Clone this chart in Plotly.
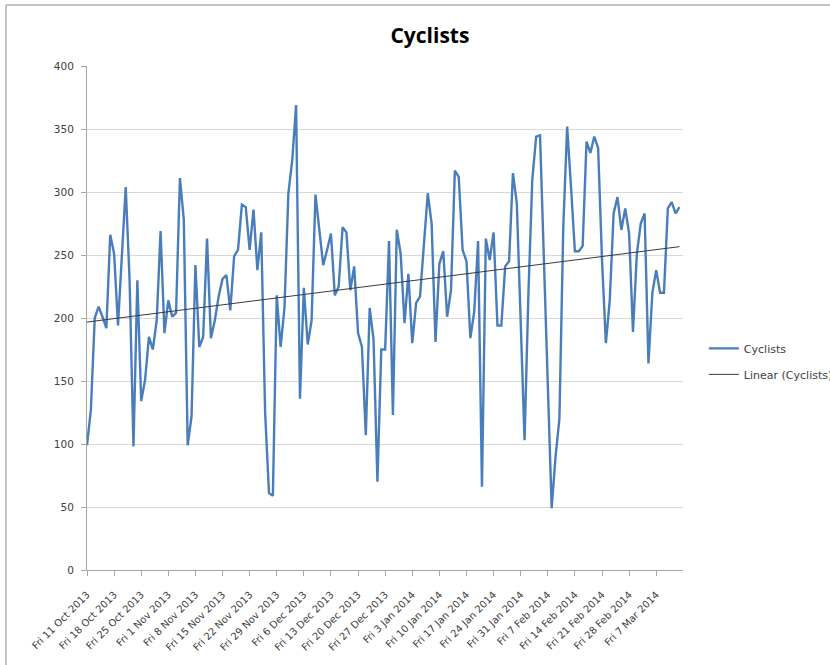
import numpy as np
import pandas as pd
import plotly.graph_objs as go

# Daily cyclist counts
start_date = "2013-10-11"
cyclists = [
    99, 127, 200, 209, 201, 192, 266, 251, 194, 245,
    304, 230, 98, 230, 134, 151, 185, 175, 198, 269,
    188, 214, 201, 204, 311, 278, 99, 122, 242, 177,
    185, 263, 184, 198, 217, 231, 234, 206, 249, 254,
    290, 288, 254, 286, 238, 268, 125, 61, 59, 218,
    177, 208, 299, 325, 369, 136, 224, 179, 198, 298,
    268, 242, 254, 267, 218, 225, 272, 268, 222, 241,
    188, 177, 107, 208, 183, 70, 175, 175, 261, 123,
    270, 251, 196, 235, 180, 212, 217, 255, 299, 275,
    181, 243, 253, 201, 222, 317, 312, 254, 245, 184,
    205, 261, 66, 263, 246, 268, 194, 194, 241, 245,
    315, 291, 200, 103, 220, 310, 344, 345, 246, 140,
    49, 90, 120, 272, 352, 304, 253, 253, 257, 340,
    331, 344, 335, 246, 180, 214, 283, 296, 270, 287,
    267, 189, 251, 275, 283, 164, 220, 238, 220, 220,
    287, 292, 283, 288,
]
series_name = "Cyclists"
trend_name = "Linear (Cyclists)"

dates = pd.date_range(start_date, periods=len(cyclists), freq="D")

# Linear trendline like Excel's
idx = np.arange(len(cyclists))
slope, intercept = np.polyfit(idx, cyclists, 1)
trend = slope * idx + intercept

title_font = "Open Sans, Liberation Sans, sans-serif"
tick_font = "DejaVu Sans, sans-serif"
text_grey = "#404040"
axis_grey = "#a6a6a6"

traces = [
    go.Scatter(x=dates, y=cyclists, mode="lines", name=series_name,
               legendgroup="a",
               line=dict(color="#4a7ebb", width=2.4)),
    go.Scatter(x=dates, y=trend, mode="lines", name=trend_name,
               legendgroup="b",
               line=dict(color="#3a3a3a", width=1)),
]

layout = go.Layout(
    width=830, height=665,
    paper_bgcolor="white", plot_bgcolor="white",
    font=dict(family=tick_font, size=11, color=text_grey),
    margin=dict(l=87, r=147, t=66, b=95, autoexpand=False),
    title=dict(text="<b>Cyclists</b>", x=0.518, xanchor="center",
               y=0.947, yanchor="middle",
               font=dict(family=title_font, size=21, color="#000000")),
    xaxis=dict(type="date",
               range=["2013-10-11", "2014-03-13 22:00"],
               tick0=start_date, dtick=7 * 86400000,
               tickformat="%a %-d %b %Y", tickangle=-45,
               tickfont=dict(size=10, color=text_grey),
               ticklabelstandoff=9,
               showgrid=False, zeroline=False,
               showline=True, linecolor=axis_grey, linewidth=1,
               ticks="outside", ticklen=5, tickcolor=axis_grey),
    yaxis=dict(range=[0, 400], dtick=50,
               tickfont=dict(size=10.5, color=text_grey),
               ticklabelstandoff=5,
               showgrid=True, gridcolor="#d9d9d9", gridwidth=1,
               zeroline=False,
               showline=True, linecolor=axis_grey, linewidth=1,
               ticks="outside", ticklen=5, tickcolor=axis_grey),
    legend=dict(x=1.035, xanchor="left", y=0.414, yanchor="middle",
                traceorder="grouped", tracegroupgap=7, itemwidth=30,
                font=dict(size=11, color=text_grey),
                bgcolor="rgba(0,0,0,0)"),
    shapes=[
        dict(type="line", xref="paper", yref="paper",
             x0=-0.136, y0=1.121, x1=1.3, y1=1.121,
             line=dict(color="#b0b0b0", width=1.5)),
        dict(type="line", xref="paper", yref="paper",
             x0=-0.136, y0=1.121, x1=-0.136, y1=-0.2,
             line=dict(color="#b0b0b0", width=1.5)),
    ],
)

fig = go.Figure(data=traces, layout=layout)
# drop the default page margin so the figure sits at the window's corner
fig.write_html("out.html", config={"displayModeBar": False},
               post_script="document.body.style.margin='0';")
